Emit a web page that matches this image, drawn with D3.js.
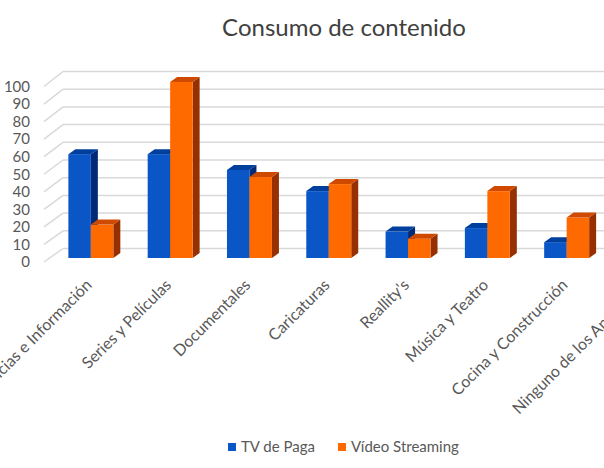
<!DOCTYPE html>
<html>
<head>
<meta charset="utf-8">
<script src="https://cdn.jsdelivr.net/npm/d3@7"></script>
<style>
    body { margin: 0; background: #fff; }
    svg { display: block; font-family: Lato, "Open Sans", sans-serif; }
</style>
</head>
<body>
<svg id="chart" width="604" height="468"></svg>
<script>
// datos
let categories = [
    "Noticias e Información",
    "Series y Películas",
    "Documentales",
    "Caricaturas",
    "Reallity's",
    "Música y Teatro",
    "Cocina y Construcción",
    "Ninguno de los Anteriores"
];
let series_names = ["TV de Paga", "Vídeo Streaming"];
let tv_paga = [59, 59, 50, 38, 15, 17, 9, 4];
let video_streaming = [19, 100, 46, 42, 11, 38, 23, 3];
let y_ticks = [0, 10, 20, 30, 40, 50, 60, 70, 80, 90, 100];

let colors = {
    "TV de Paga": { front: "#0a56c6", top: "#003f9e", side: "#002a78" },
    "Vídeo Streaming": { front: "#ff6a00", top: "#cf4a00", side: "#973000" }
};

let svg = d3.select("#chart");

// profundidad de las barras
let dx = 7, dy = -5;

let x0 = d3.scaleBand().domain(categories).range([51.2, 685.6])
    .paddingInner(0.433).paddingOuter(0.2165);
let x1 = d3.scaleBand().domain(series_names).range([0, x0.bandwidth()]);

// escala en el plano frontal (etiquetas), pared del fondo y cara de barra
let y_front = d3.scaleLinear().domain([0, 100]).range([262, 86.5]);
let y_back = d3.scaleLinear().domain([0, 100]).range([248.5, 71.5]);
let y_bar = d3.scaleLinear().domain([0, 100]).range([258, 82]);

let wall_left = 63, side_left = 44;

// titulo
svg.append("text")
    .attr("x", 344)
    .attr("y", 36)
    .attr("text-anchor", "middle")
    .style("font-size", "24px")
    .attr("fill", "#404040")
    .text("Consumo de contenido");

// lineas de la pared lateral y del fondo
let grid = svg.append("g")
    .attr("stroke", "#d9d9d9")
    .attr("stroke-width", 1.5)
    .attr("fill", "none");

grid.selectAll("line.back").data(y_ticks).join("line")
    .attr("class", "back")
    .attr("x1", wall_left)
    .attr("x2", 604)
    .attr("y1", d => y_back(d))
    .attr("y2", d => y_back(d));

grid.selectAll("line.side").data(y_ticks).join("line")
    .attr("class", "side")
    .attr("x1", side_left)
    .attr("x2", wall_left)
    .attr("y1", d => y_front(d))
    .attr("y2", d => y_back(d));

// eje y
svg.append("g")
    .attr("transform", "translate(" + side_left + ",0)")
    .call(d3.axisLeft(y_front).tickValues(y_ticks).tickSize(0).tickPadding(14))
    .call(g => g.select(".domain").remove())
    .call(g => g.selectAll("text")
        .attr("fill", "#595959")
        .style("font-size", "15px")
        .style("font-family", "Lato, sans-serif"));

// barras 3d
let rows = categories.map((c, i) => ({
    category: c,
    values: [
        { name: series_names[0], value: tv_paga[i] },
        { name: series_names[1], value: video_streaming[i] }
    ]
}));

let bars = svg.append("g");
let bw = x1.bandwidth();

rows.forEach(row => {
    row.values.forEach(d => {
        let x = x0(row.category) + x1(d.name);
        let yt = y_bar(d.value);
        let yb = y_bar(0);
        let c = colors[d.name];

        bars.append("polygon")
            .attr("points", [
                [x + bw, yt], [x + bw + dx, yt + dy],
                [x + bw + dx, yb + dy], [x + bw, yb]
            ].join(" "))
            .attr("fill", c.side);

        bars.append("rect")
            .attr("x", x)
            .attr("y", yt)
            .attr("width", bw)
            .attr("height", yb - yt)
            .attr("fill", c.front);

        bars.append("polygon")
            .attr("points", [
                [x, yt], [x + dx, yt + dy],
                [x + bw + dx, yt + dy], [x + bw, yt]
            ].join(" "))
            .attr("fill", c.top);
    });
});

// etiquetas de categoria
svg.append("g")
    .selectAll("text").data(categories).join("text")
    .attr("transform", d => "translate(" + (x0(d) + x0.bandwidth() / 2 + 2) + ",286) rotate(-45)")
    .attr("text-anchor", "end")
    .attr("fill", "#595959")
    .style("font-size", "16px")
    .text(d => d);

// leyenda
let legend = svg.append("g")
    .selectAll("g").data(series_names).join("g")
    .attr("transform", (d, i) => "translate(" + [228, 338][i] + ",443)");

legend.append("rect")
    .attr("width", 8)
    .attr("height", 8)
    .attr("fill", d => colors[d].front);

legend.append("text")
    .attr("x", 13)
    .attr("y", 9)
    .attr("fill", "#595959")
    .style("font-size", "15px")
    .text(d => d);
</script>
</body>
</html>
